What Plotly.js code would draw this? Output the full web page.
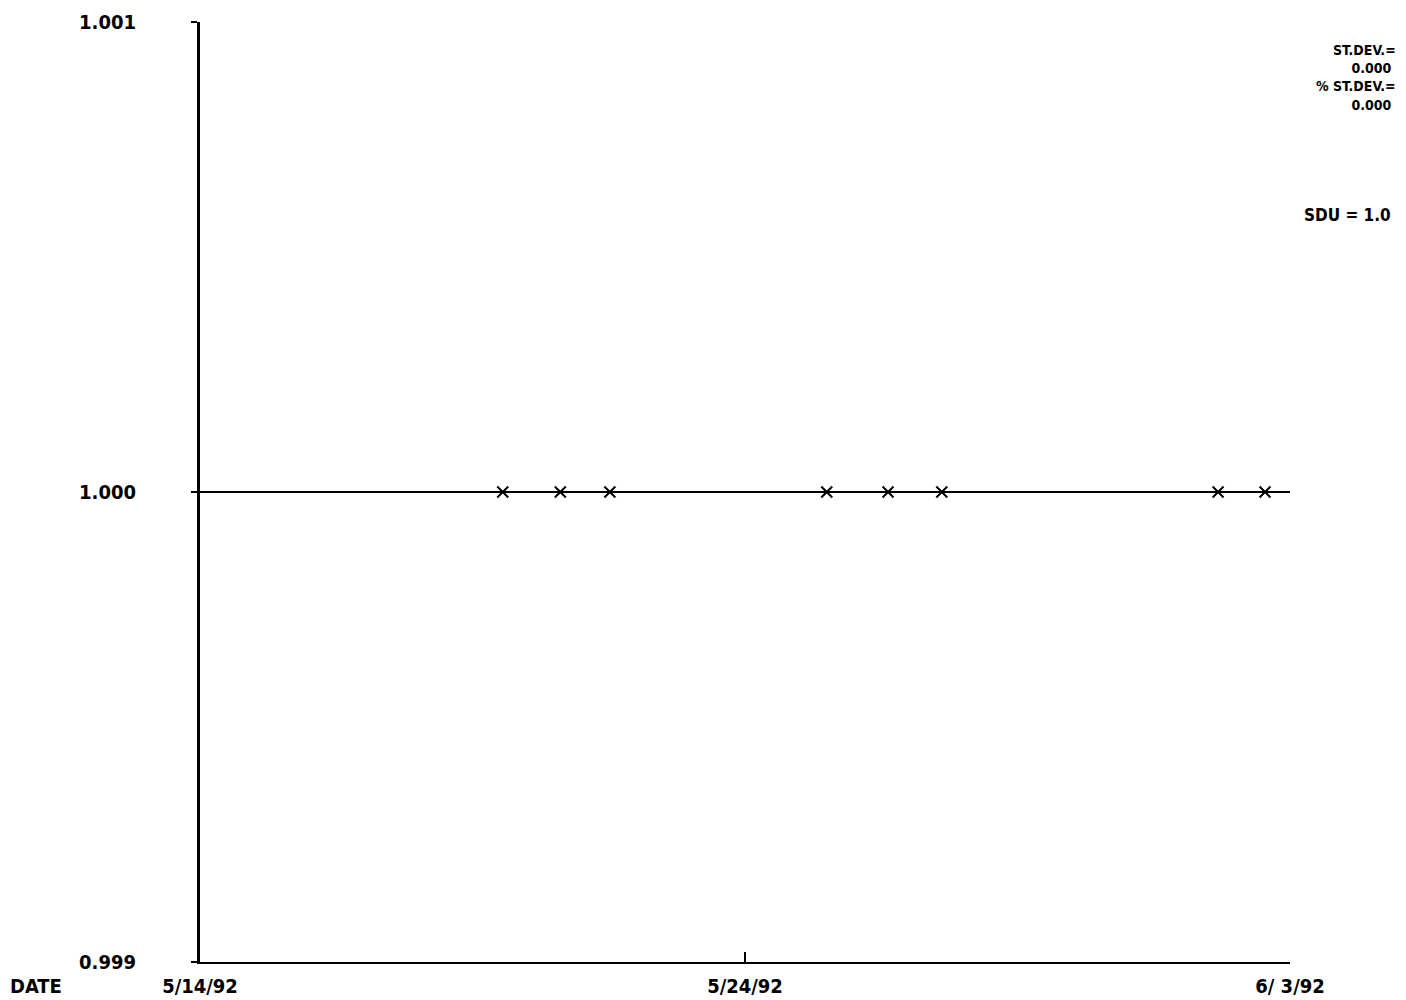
<!DOCTYPE html>
<html>
<head>
<meta charset="utf-8">
<script src="https://cdn.plot.ly/plotly-3.0.1.min.js"></script>
<style>html,body{margin:0;padding:0;background:#fff;}#chart{width:1406px;height:1000px;}</style>
</head>
<body>
<div id="chart"></div>
<script>
// Data
const lineDates = ["1992-05-14", "1992-06-03"];
const lineValues = [1.000, 1.000];
const markerDates = ["1992-05-19 13:20", "1992-05-20 14:40", "1992-05-21 12:30",
                     "1992-05-25 12:00", "1992-05-26 15:00", "1992-05-27 14:40",
                     "1992-06-01 16:20", "1992-06-02 13:00"];
const markerValues = [1.000, 1.000, 1.000, 1.000, 1.000, 1.000, 1.000, 1.000];
const xTickVals = ["1992-05-14", "1992-05-24", "1992-06-03"];
const xTickText = ["5/14/92", "5/24/92", "6/ 3/92"];
const yTickVals = [0.999, 1.000, 1.001];
const yTickText = ["0.999", "1.000", "1.001"];
const statLines = ["ST.DEV.=", "0.000\u00a0", "% ST.DEV.=", "0.000\u00a0"];
const sduText = "SDU = 1.0";
const xLabel = "DATE";

const FONT = "DejaVu Sans Condensed, Liberation Sans Narrow, sans-serif";

const traces = [
  {x: lineDates, y: lineValues, type: "scatter", mode: "lines",
   line: {color: "#000", width: 2}, hoverinfo: "skip", showlegend: false},
  {x: markerDates, y: markerValues, type: "scatter", mode: "markers",
   marker: {symbol: "x-thin-open", size: 11, color: "#000", line: {color: "#000", width: 2}},
   showlegend: false}
];

const annFont = {family: FONT, size: 20, color: "#000", weight: "bold"};
const statFont = {family: FONT, size: 14, color: "#000", weight: "bold"};
const annotations = [
  {xref: "paper", yref: "paper", x: 0, xshift: -164, y: 0, yshift: -24, xanchor: "center", yanchor: "middle",
   text: xLabel, showarrow: false, font: annFont},
  {xref: "paper", yref: "paper", x: 1.0, xshift: 108, y: 1.0, yshift: -55, xanchor: "right", yanchor: "middle",
   align: "right", text: statLines.join("<br>"), showarrow: false, font: statFont},
  {xref: "paper", yref: "paper", x: 1.0, xshift: 103, y: 1.0, yshift: -193, xanchor: "right", yanchor: "middle",
   text: sduText, showarrow: false, font: {family: FONT, size: 17, color: "#000", weight: "bold"}}
];

const layout = {
  width: 1406, height: 1000,
  margin: {l: 200, r: 116, t: 22, b: 38},
  paper_bgcolor: "#fff", plot_bgcolor: "#fff",
  showlegend: false,
  font: {family: FONT, size: 20, color: "#000", weight: "bold"},
  xaxis: {
    type: "date", range: ["1992-05-14", "1992-06-03"],
    tickvals: xTickVals, ticktext: xTickText,
    ticks: "inside", ticklen: 10, tickwidth: 2, tickcolor: "#000",
    showline: true, linecolor: "#000", linewidth: 2,
    showgrid: false, zeroline: false,
    tickfont: {family: FONT, size: 20, color: "#000", weight: "bold"},
    ticklabelstandoff: 5
  },
  yaxis: {
    range: [0.999, 1.001],
    tickvals: yTickVals, ticktext: yTickText,
    ticks: "outside", ticklen: 6, tickwidth: 2, tickcolor: "#000",
    showline: true, linecolor: "#000", linewidth: 3,
    showgrid: false, zeroline: false,
    tickfont: {family: FONT, size: 20, color: "#000", weight: "bold"},
    ticklabelstandoff: 51
  },
  annotations: annotations
};

Plotly.newPlot("chart", traces, layout, {staticPlot: true, displayModeBar: false});
</script>
</body>
</html>
